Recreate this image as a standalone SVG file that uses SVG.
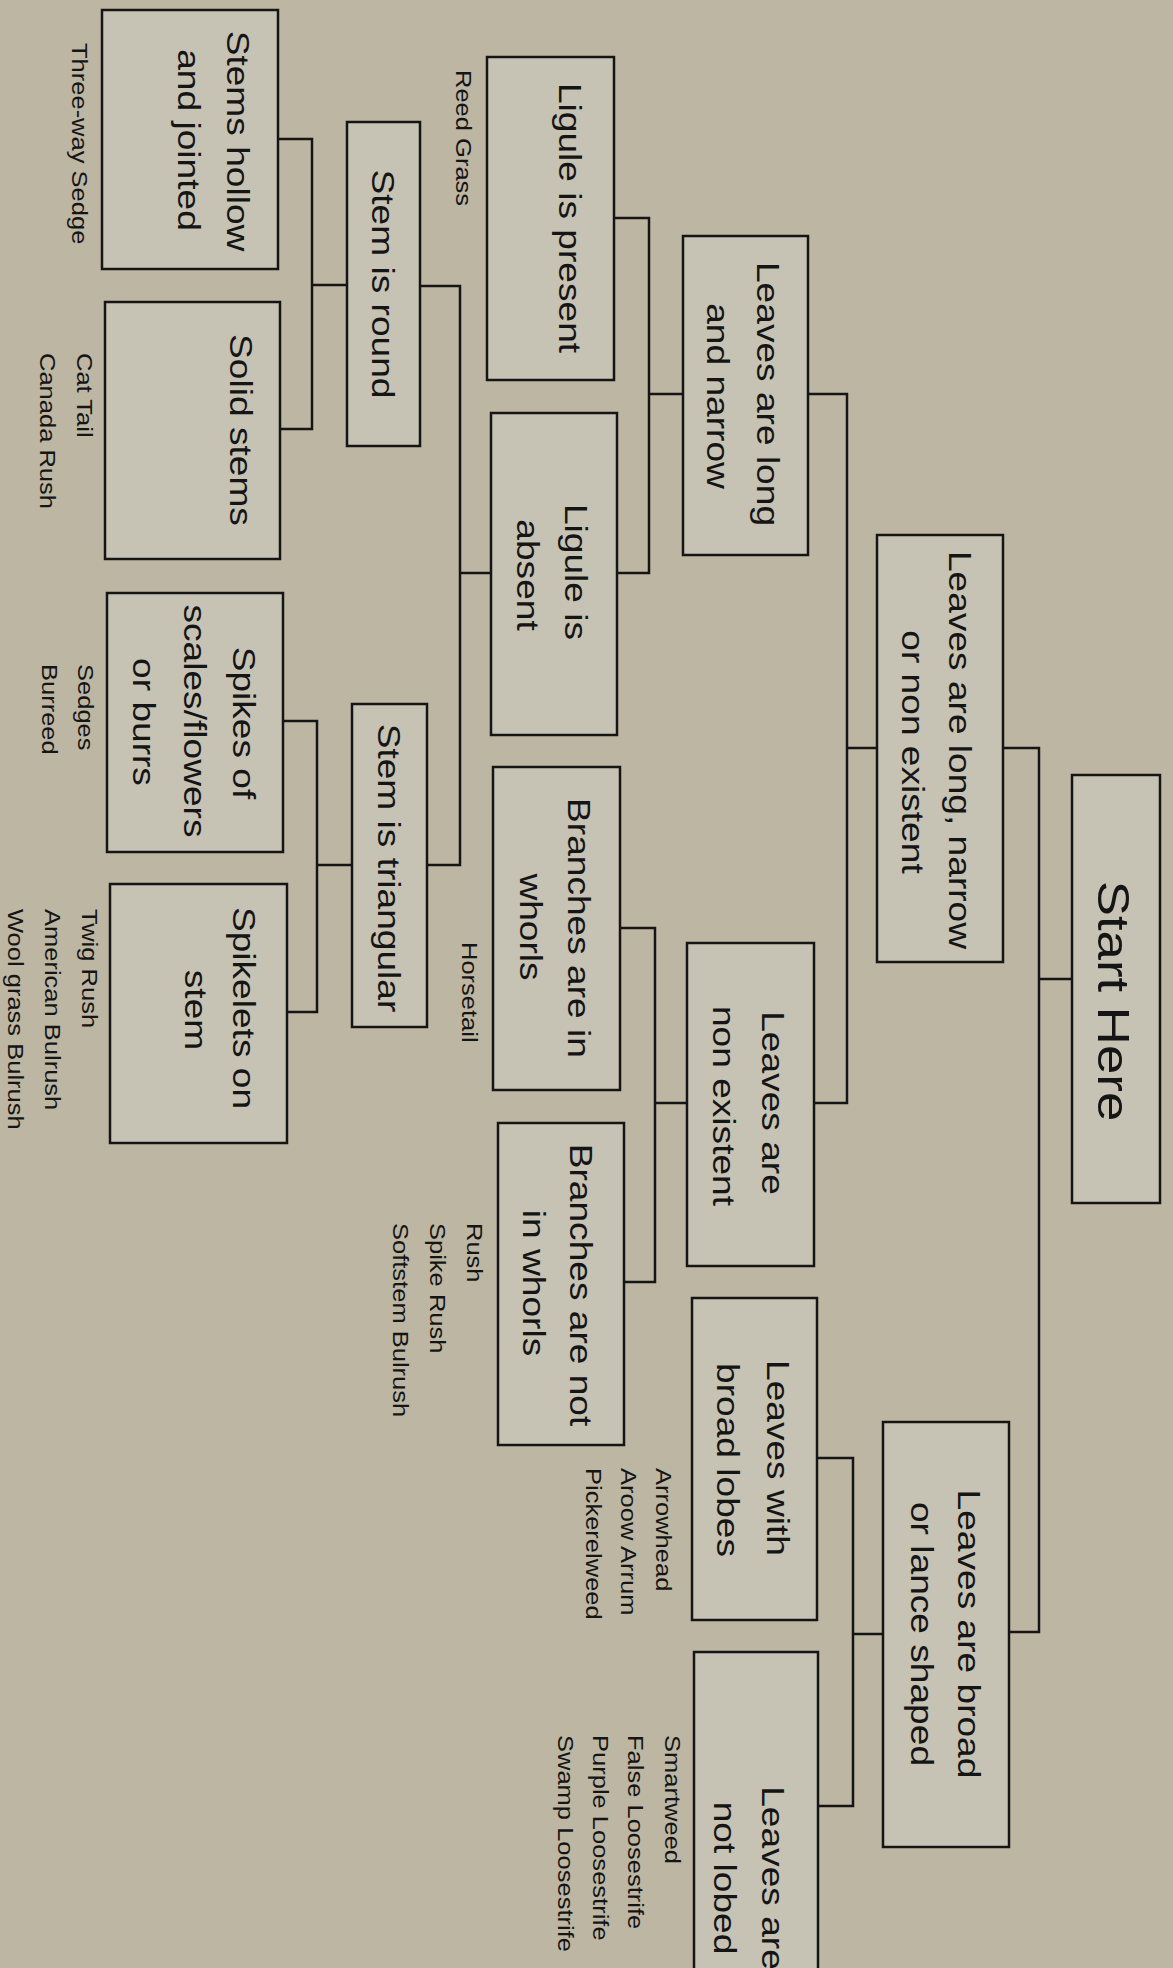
<svg xmlns="http://www.w3.org/2000/svg" width="1173" height="1968" viewBox="0 0 1173 1968">
<style>
.bg{fill:#bcb6a3}
.box{fill:#c6c2b4;stroke:#151515;stroke-width:2.5}
.conn{fill:none;stroke:#151515;stroke-width:2.5}
text{font-family:"Liberation Sans",Arial,sans-serif;fill:#151515}
.lbl{font-size:32px;text-anchor:middle}
.big{font-size:44px;text-anchor:middle}
.sm{font-size:22px;text-anchor:start}
</style>
<rect class="bg" x="0" y="0" width="1173" height="1968"/>
<g id="connectors">
<path class="conn" d="M1072,979 H1039 M1003,748 H1039 V1632 H1009"/>
<path class="conn" d="M877,748 H847 M808,394 H847 V1103 H814"/>
<path class="conn" d="M883,1634 H853 M817,1458 H853 V1806 H818"/>
<path class="conn" d="M683,394 H649 M614,218 H649 V573 H617"/>
<path class="conn" d="M687,1103 H655 M620,928 H655 V1282 H624"/>
<path class="conn" d="M491,573 H460 M420,286 H460 V865 H427"/>
<path class="conn" d="M347,285 H312 M278,139 H312 V429 H280"/>
<path class="conn" d="M352,865 H317 M283,721 H317 V1012 H287"/>
</g>
<g id="start">
<rect class="box" x="1072" y="775" width="88" height="428"/>
<text class="big" transform="translate(1098,1001) rotate(90) scale(1.2,1)">Start Here</text>
</g>
<g id="long-narrow-nonexistent">
<rect class="box" x="877" y="535" width="126" height="427"/>
<text class="lbl" transform="translate(949,750) rotate(90) scale(1.16,1)">Leaves are long, narrow</text>
<text class="lbl" transform="translate(902,752) rotate(90) scale(1.16,1)">or non existent</text>
</g>
<g id="broad-lance">
<rect class="box" x="883" y="1422" width="126" height="425"/>
<text class="lbl" transform="translate(958,1634) rotate(90) scale(1.16,1)">Leaves are broad</text>
<text class="lbl" transform="translate(911,1634) rotate(90) scale(1.16,1)">or lance shaped</text>
</g>
<g id="long-narrow">
<rect class="box" x="683" y="236" width="125" height="319"/>
<text class="lbl" transform="translate(757,394) rotate(90) scale(1.16,1)">Leaves are long</text>
<text class="lbl" transform="translate(707,396) rotate(90) scale(1.16,1)">and narrow</text>
</g>
<g id="non-existent">
<rect class="box" x="687" y="943" width="127" height="323"/>
<text class="lbl" transform="translate(762,1103) rotate(90) scale(1.16,1)">Leaves are</text>
<text class="lbl" transform="translate(713,1106) rotate(90) scale(1.16,1)">non existent</text>
</g>
<g id="broad-lobes">
<rect class="box" x="692" y="1298" width="125" height="322"/>
<text class="lbl" transform="translate(767,1458) rotate(90) scale(1.16,1)">Leaves with</text>
<text class="lbl" transform="translate(717,1460) rotate(90) scale(1.16,1)">broad lobes</text>
<text class="sm" transform="translate(656,1468) rotate(90) scale(1.16,1)">Arrowhead</text>
<text class="sm" transform="translate(621,1468) rotate(90) scale(1.16,1)">Aroow Arrum</text>
<text class="sm" transform="translate(586,1468) rotate(90) scale(1.16,1)">Pickerelweed</text>
</g>
<g id="not-lobed">
<rect class="box" x="694" y="1652" width="124" height="340"/>
<text class="lbl" transform="translate(762,1878) rotate(90) scale(1.16,1)">Leaves are</text>
<text class="lbl" transform="translate(714,1878) rotate(90) scale(1.16,1)">not lobed</text>
<text class="sm" transform="translate(665,1735) rotate(90) scale(1.16,1)">Smartweed</text>
<text class="sm" transform="translate(628,1735) rotate(90) scale(1.16,1)">False Loosestrife</text>
<text class="sm" transform="translate(593,1735) rotate(90) scale(1.16,1)">Purple Loosestrife</text>
<text class="sm" transform="translate(558,1735) rotate(90) scale(1.16,1)">Swamp Loosestrife</text>
</g>
<g id="ligule-present">
<rect class="box" x="487" y="57" width="127" height="323"/>
<text class="lbl" transform="translate(559,218) rotate(90) scale(1.16,1)">Ligule is present</text>
<text class="sm" transform="translate(456,70) rotate(90) scale(1.16,1)">Reed Grass</text>
</g>
<g id="ligule-absent">
<rect class="box" x="491" y="413" width="126" height="322"/>
<text class="lbl" transform="translate(565,572) rotate(90) scale(1.16,1)">Ligule is</text>
<text class="lbl" transform="translate(517,575) rotate(90) scale(1.16,1)">absent</text>
</g>
<g id="whorls">
<rect class="box" x="493" y="767" width="127" height="323"/>
<text class="lbl" transform="translate(568,928) rotate(90) scale(1.16,1)">Branches are in</text>
<text class="lbl" transform="translate(520,927) rotate(90) scale(1.16,1)">whorls</text>
<text class="sm" transform="translate(462,942) rotate(90) scale(1.16,1)">Horsetail</text>
</g>
<g id="not-whorls">
<rect class="box" x="498" y="1123" width="126" height="322"/>
<text class="lbl" transform="translate(570,1285) rotate(90) scale(1.16,1)">Branches are not</text>
<text class="lbl" transform="translate(523,1283) rotate(90) scale(1.16,1)">in whorls</text>
<text class="sm" transform="translate(467,1223) rotate(90) scale(1.16,1)">Rush</text>
<text class="sm" transform="translate(430,1223) rotate(90) scale(1.16,1)">Spike Rush</text>
<text class="sm" transform="translate(393,1223) rotate(90) scale(1.16,1)">Softstem Bulrush</text>
</g>
<g id="stem-round">
<rect class="box" x="347" y="122" width="73" height="324"/>
<text class="lbl" transform="translate(372,284) rotate(90) scale(1.16,1)">Stem is round</text>
</g>
<g id="stem-triangular">
<rect class="box" x="352" y="704" width="75" height="323"/>
<text class="lbl" transform="translate(378,868) rotate(90) scale(1.16,1)">Stem is triangular</text>
</g>
<g id="stems-hollow">
<rect class="box" x="102" y="10" width="176" height="259"/>
<text class="lbl" transform="translate(227,141) rotate(90) scale(1.16,1)">Stems hollow</text>
<text class="lbl" transform="translate(178,140) rotate(90) scale(1.16,1)">and jointed</text>
<text class="sm" transform="translate(72,43) rotate(90) scale(1.16,1)">Three-way Sedge</text>
</g>
<g id="solid-stems">
<rect class="box" x="105" y="302" width="175" height="257"/>
<text class="lbl" transform="translate(230,430) rotate(90) scale(1.16,1)">Solid stems</text>
<text class="sm" transform="translate(77,353) rotate(90) scale(1.16,1)">Cat Tail</text>
<text class="sm" transform="translate(40,353) rotate(90) scale(1.16,1)">Canada Rush</text>
</g>
<g id="spikes">
<rect class="box" x="107" y="593" width="176" height="259"/>
<text class="lbl" transform="translate(233,723) rotate(90) scale(1.16,1)">Spikes of</text>
<text class="lbl" transform="translate(184,721) rotate(90) scale(1.16,1)">scales/flowers</text>
<text class="lbl" transform="translate(133,722) rotate(90) scale(1.16,1)">or burrs</text>
<text class="sm" transform="translate(78,664) rotate(90) scale(1.16,1)">Sedges</text>
<text class="sm" transform="translate(42,664) rotate(90) scale(1.16,1)">Burreed</text>
</g>
<g id="spikelets">
<rect class="box" x="110" y="884" width="177" height="259"/>
<text class="lbl" transform="translate(233,1008) rotate(90) scale(1.16,1)">Spikelets on</text>
<text class="lbl" transform="translate(185,1010) rotate(90) scale(1.16,1)">stem</text>
<text class="sm" transform="translate(82,909) rotate(90) scale(1.16,1)">Twig Rush</text>
<text class="sm" transform="translate(45,909) rotate(90) scale(1.16,1)">American Bulrush</text>
<text class="sm" transform="translate(8,909) rotate(90) scale(1.16,1)">Wool grass Bulrush</text>
</g>
</svg>
